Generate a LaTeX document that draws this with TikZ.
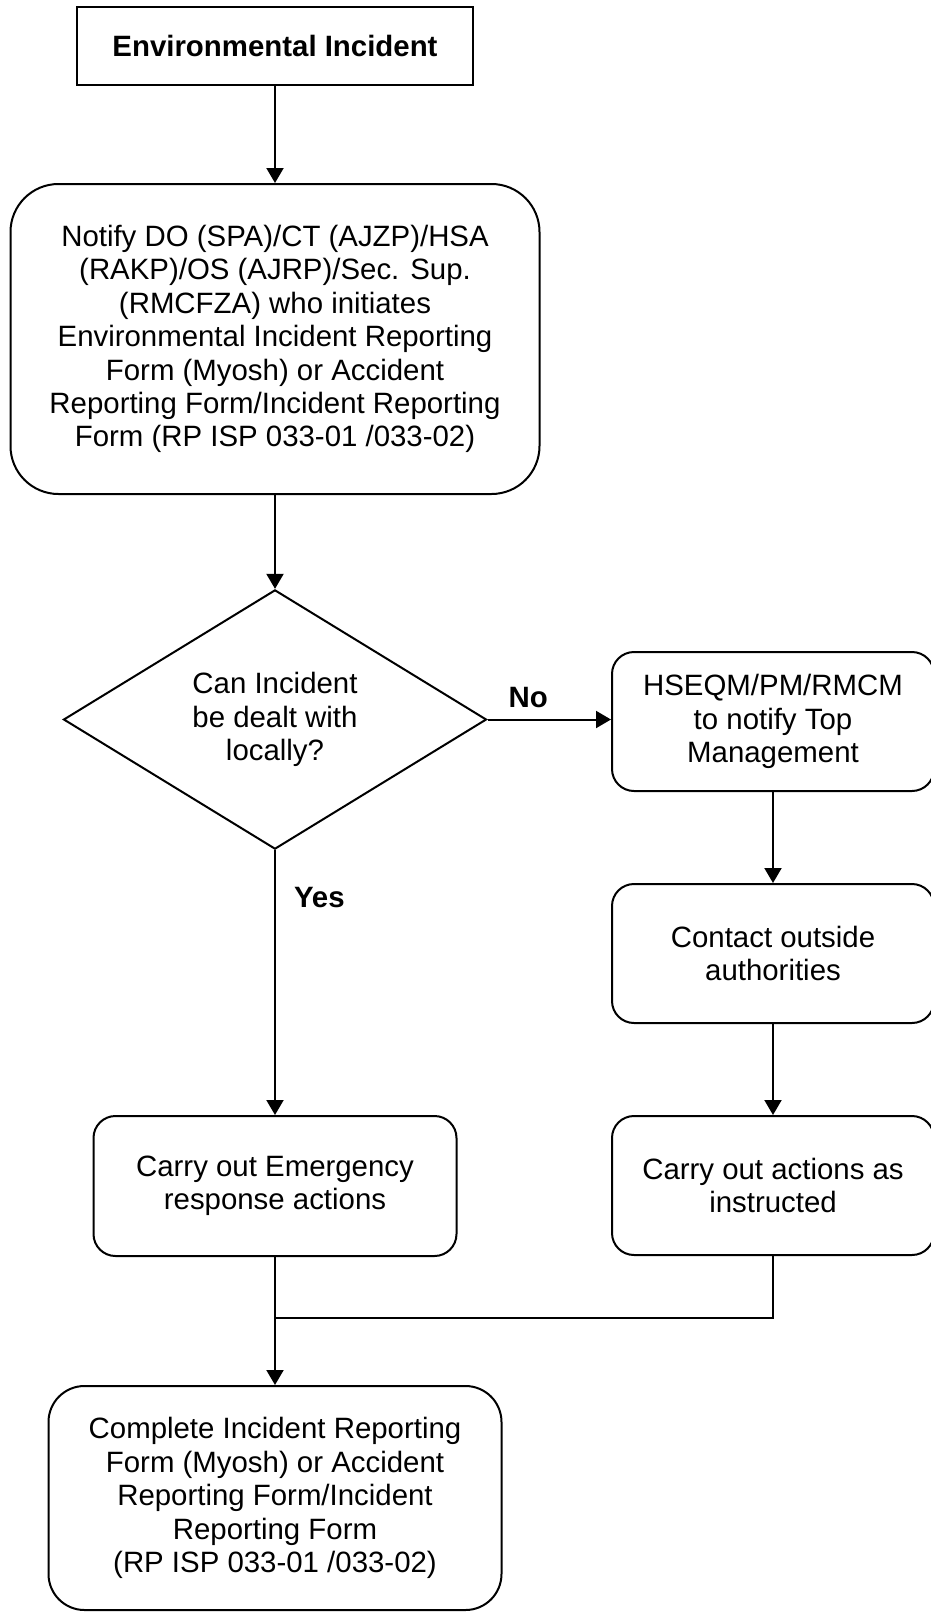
\documentclass[tikz,border=0pt]{standalone}
\usepackage{fontspec}
\setmainfont{Liberation Sans}
\usetikzlibrary{arrows.meta,shapes.geometric}
\begin{document}
\begin{tikzpicture}[x=1pt,y=-1pt,
  every node/.style={font=\fontsize{29.4}{33.4}\selectfont, align=center, inner sep=0pt},
  boxbase/.style={draw, line width=2pt, rectangle},
  arr/.style={line width=2pt, -{Triangle[length=15pt,width=17pt]}},
  conn/.style={line width=2pt},
  lbl/.style={font=\fontsize{29.4}{33.4}\selectfont\bfseries}
]
\useasboundingbox (0,0) rectangle (930,1612);
\fill[white] (0,0) rectangle (930,1612);

\node[boxbase, minimum width=396pt, minimum height=78pt] (top) at (275,46)
  {\bfseries Environmental Incident};

\node[boxbase, rounded corners=48pt, minimum width=529pt, minimum height=310pt] (notify) at (275,339)
  {Notify DO (SPA)/CT (AJZP)/HSA\\(RAKP)/OS (AJRP)/Sec. Sup.\\(RMCFZA) who initiates\\Environmental Incident Reporting\\Form (Myosh) or Accident\\Reporting Form/Incident Reporting\\Form (RP ISP 033-01 /033-02)};

\node[draw, line width=2pt, diamond, minimum width=423pt, minimum height=249pt] (dec) at (275,719.5)
  {Can Incident\\be dealt with\\locally?};

\node[boxbase, rounded corners=22pt, minimum width=322pt, minimum height=139pt] (rb1) at (773,721.5)
  {HSEQM/PM/RMCM\\to notify Top\\Management};
\node[boxbase, rounded corners=22pt, minimum width=322pt, minimum height=139pt] (rb2) at (773,953.5)
  {Contact outside\\authorities};
\node[boxbase, rounded corners=22pt, minimum width=322pt, minimum height=139pt] (rb3) at (773,1185.5)
  {Carry out actions as\\instructed};

\node[boxbase, rounded corners=22pt, minimum width=363pt, minimum height=140pt] (lb) at (275,1186)
  {Carry out Emergency\\response actions};

\node[boxbase, rounded corners=36pt, minimum width=453pt, minimum height=224pt] (fin) at (275,1498)
  {Complete Incident Reporting\\Form (Myosh) or Accident\\Reporting Form/Incident\\Reporting Form\\(RP ISP 033-01 /033-02)};

\coordinate (m) at (275,1318);

\draw[arr] (top) -- (notify);
\draw[arr] (notify) -- (dec);
\draw[arr] (dec.east) -- node[lbl, pos=0.33, anchor=south, yshift=11pt] {No} (rb1.west |- dec.east);
\draw[arr] (dec.south) -- node[lbl, pos=0.18, anchor=west, xshift=18pt] {Yes} (lb.north);
\draw[arr] (rb1.south) -- (rb2.north);
\draw[arr] (rb2.south) -- (rb3.north);
\draw[conn] (rb3.south) |- (m);
\draw[arr] (lb.south) -- (fin.north);
\end{tikzpicture}
\end{document}
